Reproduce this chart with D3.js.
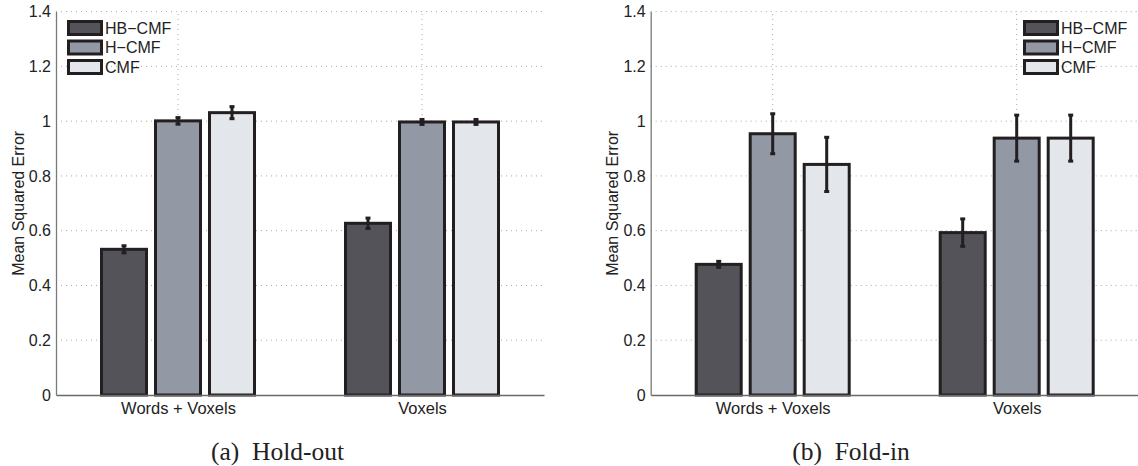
<!DOCTYPE html>
<html>
<head>
<meta charset="utf-8">
<script src="https://cdn.jsdelivr.net/npm/d3@7"></script>
<style>
  html, body { margin: 0; padding: 0; background: #fff; }
  svg { display: block; }
</style>
</head>
<body>
<svg id="chart" width="1138" height="466"></svg>
<script>
// data
const categories = ["Words + Voxels", "Voxels"]
const seriesNames = ["HB\u2212CMF", "H\u2212CMF", "CMF"]
const yTicks = [0, 0.2, 0.4, 0.6, 0.8, 1, 1.2, 1.4]

// (a) hold-out: one value per category
const holdoutHB = [0.532, 0.627]
const holdoutH = [1.001, 0.997]
const holdoutCMF = [1.031, 0.997]
const holdoutHBErr = [0.013, 0.019]
const holdoutHErr = [0.012, 0.009]
const holdoutCMFErr = [0.022, 0.009]

// (b) fold-in
const foldinHB = [0.477, 0.593]
const foldinH = [0.954, 0.938]
const foldinCMF = [0.842, 0.938]
const foldinHBErr = [0.011, 0.050]
const foldinHErr = [0.073, 0.084]
const foldinCMFErr = [0.099, 0.084]

const colors = ["#545359", "#9299a5", "#e3e7eb"]
const ink = "#231f20"
const sans = "'Liberation Sans', Arial, Helvetica, sans-serif"
const serif = "'Liberation Serif', 'Times New Roman', serif"

const svg = d3.select("#chart")
svg.append("rect").attr("width", 1138).attr("height", 466).attr("fill", "#fff")

function drawPanel(left, means, errs, legendX, caption, captionX) {
  const width = 488
  const g = svg.append("g")

  const x = d3.scaleLinear().domain([0.5, 2.5]).range([left, left + width])
  const y = d3.scaleLinear().domain([0, 1.4]).range([395, 11.6])
  const xs = d3.scaleBand().domain(d3.range(seriesNames.length)).range([-81, 81])
  const barW = 45

  const rows = []
  means.forEach((vals, s) => vals.forEach((v, c) => {
    rows.push({ s, c, v, e: errs[s][c] })
  }))

  // grid
  g.append("g").selectAll("line")
    .data(yTicks.filter(d => d > 0))
    .join("line")
    .attr("x1", x(0.5)).attr("x2", x(2.5))
    .attr("y1", d => y(d)).attr("y2", d => y(d))
    .attr("stroke", "#a8a8a8").attr("stroke-width", 1)
    .attr("stroke-dasharray", "1,4")

  g.append("g").selectAll("line")
    .data([1, 2])
    .join("line")
    .attr("x1", d => x(d)).attr("x2", d => x(d))
    .attr("y1", y(0)).attr("y2", y(1.4))
    .attr("stroke", "#a8a8a8").attr("stroke-width", 1)
    .attr("stroke-dasharray", "1,4")

  // axes
  const yAxis = g.append("g")
    .attr("transform", `translate(${left},0)`)
    .call(d3.axisLeft(y).tickValues(yTicks).tickFormat(d3.format("~g")).tickSize(0).tickPadding(5))
  yAxis.select(".domain").attr("stroke", "#7a7a7a").attr("stroke-width", 1.3)
  yAxis.selectAll("text").attr("fill", "#222").style("font-family", sans).style("font-size", "16px")

  // bars
  g.append("g").selectAll("rect")
    .data(rows)
    .join("rect")
    .attr("x", d => x(d.c + 1) + xs(d.s) + (xs.bandwidth() - barW) / 2)
    .attr("y", d => y(d.v))
    .attr("width", barW)
    .attr("height", d => y(0) - y(d.v))
    .attr("fill", d => colors[d.s])
    .attr("stroke", ink)
    .attr("stroke-width", 3)

  const xAxis = g.append("g")
    .attr("transform", `translate(0,${y(0)})`)
    .call(d3.axisBottom(x).tickValues([1, 2]).tickFormat(d => categories[d - 1]).tickSize(0).tickPadding(7))
  xAxis.select(".domain").attr("stroke", "#6a6a6a").attr("stroke-width", 1.3)
  xAxis.selectAll("text").attr("fill", "#222").style("font-family", sans).style("font-size", "16.5px")

  // error bars
  const cx = d => x(d.c + 1) + xs(d.s) + xs.bandwidth() / 2
  const eb = g.append("g").attr("stroke", ink).attr("stroke-width", 3)
  eb.selectAll(".stem")
    .data(rows)
    .join("line")
    .attr("x1", cx).attr("x2", cx)
    .attr("y1", d => y(d.v - d.e)).attr("y2", d => y(d.v + d.e))
  eb.selectAll(".cap")
    .data(rows.flatMap(d => [{ ...d, at: d.v - d.e }, { ...d, at: d.v + d.e }]))
    .join("line")
    .attr("x1", d => cx(d) - 2.5).attr("x2", d => cx(d) + 2.5)
    .attr("y1", d => y(d.at)).attr("y2", d => y(d.at))

  // y label
  g.append("text")
    .attr("transform", `translate(${left - 38},${y(0.7)}) rotate(-90)`)
    .attr("text-anchor", "middle")
    .attr("dy", "0.35em")
    .attr("fill", "#222")
    .style("font-family", sans).style("font-size", "16px")
    .text("Mean Squared Error")

  // legend
  const lg = g.append("g").attr("transform", `translate(${legendX},20)`)
  const item = lg.selectAll("g")
    .data(seriesNames)
    .join("g")
    .attr("transform", (d, i) => `translate(0,${i * 19.5})`)
  item.append("rect")
    .attr("x", 1.5).attr("y", 1.5)
    .attr("width", 33).attr("height", 13)
    .attr("fill", (d, i) => colors[i])
    .attr("stroke", ink).attr("stroke-width", 3)
  item.append("text")
    .attr("x", 38).attr("y", 8).attr("dy", "0.35em")
    .attr("fill", "#222")
    .style("font-family", sans).style("font-size", "16px")
    .text(d => d)

  // caption
  svg.append("text")
    .attr("x", captionX).attr("y", 460)
    .attr("text-anchor", "middle")
    .attr("fill", "#222")
    .style("font-family", serif).style("font-size", "25.5px")
    .text(caption)
}

drawPanel(56,
  [holdoutHB, holdoutH, holdoutCMF],
  [holdoutHBErr, holdoutHErr, holdoutCMFErr],
  67, "(a)\u00a0 Hold-out", 277.5)

drawPanel(650.7,
  [foldinHB, foldinH, foldinCMF],
  [foldinHBErr, foldinHErr, foldinCMFErr],
  1023, "(b)\u00a0 Fold-in", 851)
</script>
</body>
</html>
